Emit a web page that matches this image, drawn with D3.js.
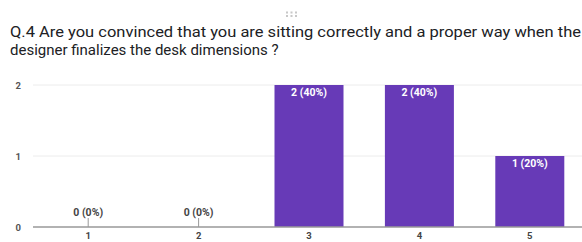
<!DOCTYPE html>
<html>
<head>
<meta charset="utf-8">
<script src="https://cdn.jsdelivr.net/npm/d3@7.9.0/dist/d3.min.js"></script>
<style>
  body { margin: 0; background: #fff; }
  svg { display: block; font-family: Roboto, Arial, sans-serif; }
</style>
</head>
<body>
<svg id="chart" width="582" height="242"></svg>
<script>
const titleLines = [
    'Q.4 Are you convinced that you are sitting correctly and a proper way when the',
    'designer finalizes the desk dimensions ?'
];
const categories = ['1', '2', '3', '4', '5'];
const counts = [0, 0, 2, 2, 1];
const percents = ['0%', '0%', '40%', '40%', '20%'];
const yTicks = [0, 1, 2];

const svg = d3.select('#chart');
const margin = { top: 85, right: -3, bottom: 15, left: 33 };
const width = 582 - margin.left - margin.right;
const height = 242 - margin.top - margin.bottom;

// drag handle
const dots = [];
for (let r = 0; r < 2; r++) {
    for (let c = 0; c < 3; c++) dots.push([287 + c * 4.5, 12.5 + r * 3.5]);
}
svg.selectAll('rect.dot')
    .data(dots)
    .join('rect')
    .attr('x', (d) => d[0] - 1)
    .attr('y', (d) => d[1] - 1)
    .attr('width', 2)
    .attr('height', 2)
    .attr('fill', '#c8c8c8');

svg.selectAll('text.title')
    .data(titleLines)
    .join('text')
    .attr('class', 'title')
    .attr('x', 10)
    .attr('y', (d, i) => 37 + i * 18)
    .attr('font-size', 15)
    .attr('fill', '#202124')
    .text((d) => d)
    .filter((d, i) => i === 0)
    .attr('textLength', 571)
    .attr('lengthAdjust', 'spacingAndGlyphs');

const g = svg.append('g').attr('transform', `translate(${margin.left},${margin.top})`);

const x = d3.scaleBand().domain(categories).range([0, width]).paddingInner(0.375).paddingOuter(0.1875);
const y = d3.scaleLinear().domain([0, 2]).range([height, 0]);

// grid
g.selectAll('line.grid')
    .data(yTicks.filter((t) => t > 0))
    .join('line')
    .attr('x1', 0)
    .attr('x2', width)
    .attr('y1', (d) => y(d))
    .attr('y2', (d) => y(d))
    .attr('stroke', '#ececec');

g.append('g')
    .call(d3.axisLeft(y).tickValues(yTicks).tickSize(0).tickFormat(d3.format('d')))
    .call((a) => a.select('.domain').remove())
    .call((a) => a.selectAll('text')
        .attr('x', -12)
        .attr('font-size', 9.5)
        .attr('font-weight', 'bold')
        .attr('fill', '#555')
        .attr('font-family', 'Roboto, Arial, sans-serif'));

const data = categories.map((c, i) => ({ cat: c, value: counts[i], pct: percents[i] }));

g.selectAll('rect.bar')
    .data(data.filter((d) => d.value > 0))
    .join('rect')
    .attr('class', 'bar')
    .attr('x', (d) => x(d.cat))
    .attr('y', (d) => y(d.value))
    .attr('width', x.bandwidth())
    .attr('height', (d) => height - y(d.value))
    .attr('fill', '#673ab7');

// labels inside bars
g.selectAll('text.inlabel')
    .data(data.filter((d) => d.value > 0))
    .join('text')
    .attr('x', (d) => x(d.cat) + x.bandwidth() / 2)
    .attr('y', (d) => y(d.value) + 11)
    .attr('text-anchor', 'middle')
    .attr('font-size', 10.5)
    .attr('font-weight', 'bold')
    .attr('fill', '#fff')
    .text((d) => `${d.value} (${d.pct})`);

// zero labels with leader line
const zeros = data.filter((d) => d.value === 0);
g.selectAll('line.lead')
    .data(zeros)
    .join('line')
    .attr('x1', (d) => x(d.cat) + x.bandwidth() / 2)
    .attr('x2', (d) => x(d.cat) + x.bandwidth() / 2)
    .attr('y1', height - 9)
    .attr('y2', height)
    .attr('stroke', '#999');
g.selectAll('text.zlabel')
    .data(zeros)
    .join('text')
    .attr('x', (d) => x(d.cat) + x.bandwidth() / 2)
    .attr('y', height - 11)
    .attr('text-anchor', 'middle')
    .attr('font-size', 10.5)
    .attr('font-weight', 'bold')
    .attr('fill', '#444')
    .text((d) => `${d.value} (${d.pct})`);

// baseline
g.append('line')
    .attr('x1', 0)
    .attr('x2', width)
    .attr('y1', height)
    .attr('y2', height)
    .attr('stroke', '#999')
    .attr('stroke-width', 1.5);

g.append('g')
    .attr('transform', `translate(0,${height})`)
    .call(d3.axisBottom(x).tickSize(0).tickPadding(5))
    .call((a) => a.select('.domain').remove())
    .call((a) => a.selectAll('text')
        .attr('font-size', 9.5)
        .attr('font-weight', 'bold')
        .attr('fill', '#444')
        .attr('font-family', 'Roboto, Arial, sans-serif'));
</script>
</body>
</html>
